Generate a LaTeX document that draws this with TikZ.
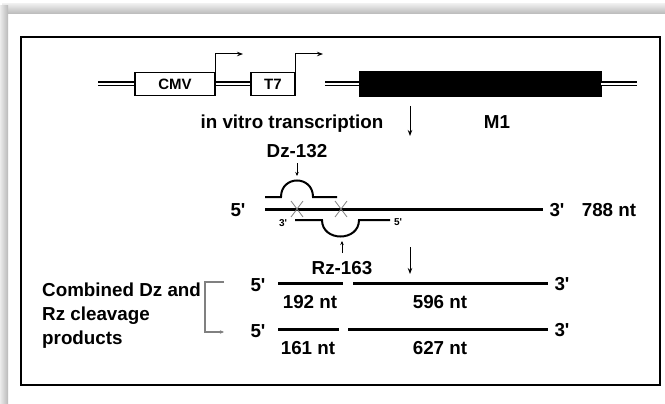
\documentclass[tikz,border=0pt]{standalone}
\usepackage{fontspec}
\setmainfont{Liberation Sans}
\usetikzlibrary{arrows.meta}
\newcommand{\pr}{\textquotesingle}
\begin{document}
\begin{tikzpicture}[x=1pt,y=-1pt,
  lbl/.style={font=\fontsize{18.8}{24}\selectfont\bfseries, inner sep=0pt, text height=13pt, text depth=0pt},
  boxlbl/.style={font=\fontsize{15}{17}\selectfont\bfseries, draw, line width=1.3pt, inner sep=0pt},
  tiny/.style={font=\fontsize{10}{12}\selectfont\bfseries, inner sep=0pt, text height=7pt, text depth=0pt},
  dbl/.style={double, line width=1.3pt, double distance=2.4pt},
  rna/.style={line width=3pt},
  strand/.style={line width=2pt},
  cross/.style={gray, line width=0.8pt},
  arr/.style={line width=1pt, -{Stealth[length=6pt,width=4.5pt]}},
  sarr/.style={line width=0.8pt, -{Stealth[length=4pt,width=3.5pt]}},
  brk/.style={gray, line width=1.2pt}
]
\useasboundingbox (0,0) rectangle (665,404);
% frame shadow
\shade[top color=gray!15, bottom color=gray!55] (2,4) rectangle (665,14);
\shade[left color=gray!15, right color=gray!55] (0,6) rectangle (8,404);
\draw[line width=2pt] (21,37.5) rectangle (659.5,385);

% top construct
\coordinate (l0) at (98,84);
\node[boxlbl, minimum width=80pt, minimum height=22.5pt] (cmv) at (175,84) {CMV};
\node[boxlbl, minimum width=44pt, minimum height=22.5pt] (t7) at (273,84) {T7};
\node[fill=black, draw=black, minimum width=242pt, minimum height=25pt, inner sep=0pt] (m1box) at (480,84) {};
\coordinate (r0) at (637,84);
\coordinate (gapl) at (325,84);
\draw[dbl] (l0) -- (cmv.west);
\draw[dbl] (cmv.east) -- (t7.west);
\draw[dbl] (gapl) -- (m1box.west);
\draw[dbl] (m1box.east) -- (r0);
\coordinate (p1) at (243,54);
\coordinate (p2) at (323,54);
\draw[line width=1pt, -{Stealth[length=6pt,width=4.5pt]}] (cmv.north east) |- (p1);
\draw[line width=1pt, -{Stealth[length=6pt,width=4.5pt]}] (t7.north east) |- (p2);

\node[lbl] (ivt) at (292,122) {in vitro transcription};
\node[lbl] (m1) at (497,122) {M1};
\coordinate (a1s) at (410,106);
\coordinate (a1e) at (410,136);
\draw[arr] (a1s) -- (a1e);

% hybridisation
\node[lbl] (dz) at (297,151) {Dz-132};
\coordinate (dzs) at (297,163);
\coordinate (dze) at (297,176);
\draw[sarr] (dzs) -- (dze);

\node[lbl] (five) at (238,210) {5\pr};
\coordinate (ms) at (265,209);
\coordinate (me) at (543,209);
\draw[rna] (ms) -- (me);
\node[lbl] (three) at (557,210) {3\pr};
\node[lbl] (nt788) at (609,210) {788 nt};

% Dz strand (upper)
\coordinate (u1) at (265,197);
\coordinate (u2) at (281,197);
\coordinate (u3) at (313,197);
\coordinate (u4) at (337,197);
\draw[strand] (u1) -- (u2) .. controls (281,175) and (313,175) .. (u3) -- (u4);
% Rz strand (lower)
\node[tiny] (s3) at (283,223) {3\pr};
\node[tiny] (s5) at (398,222) {5\pr};
\coordinate (d1) at (295,220);
\coordinate (d2) at (322,220);
\coordinate (d3) at (359,220);
\coordinate (d4) at (390,220);
\draw[strand] (d1) -- (d2) .. controls (322,242) and (359,242) .. (d3) -- (d4);
% crosses
\coordinate (x1) at (297,209);
\coordinate (x2) at (341,209);
\draw[cross] ([shift={(-6,-8)}]x1) -- ([shift={(6,8)}]x1) ([shift={(6,-8)}]x1) -- ([shift={(-6,8)}]x1);
\draw[cross] ([shift={(-6,-8)}]x2) -- ([shift={(6,8)}]x2) ([shift={(6,-8)}]x2) -- ([shift={(-6,8)}]x2);

\coordinate (rzs) at (342,253);
\coordinate (rze) at (342,241);
\draw[sarr] (rzs) -- (rze);
\node[lbl] (rz) at (342,268) {Rz-163};
\coordinate (a2s) at (410,247);
\coordinate (a2e) at (410,274);
\draw[arr] (a2s) -- (a2e);

% products
\node[lbl] (p5a) at (258,285) {5\pr};
\node[lbl] (p5b) at (258,331) {5\pr};
\node[lbl] (p3a) at (562,284) {3\pr};
\node[lbl] (p3b) at (562,330) {3\pr};
\coordinate (ra1) at (278,283);
\coordinate (ra2) at (343,283);
\coordinate (ra3) at (353,283);
\coordinate (ra4) at (548,283);
\coordinate (rb1) at (278,329);
\coordinate (rb2) at (339,329);
\coordinate (rb3) at (348,329);
\coordinate (rb4) at (548,329);
\draw[rna] (ra1) -- (ra2);
\draw[rna] (ra3) -- (ra4);
\draw[rna] (rb1) -- (rb2);
\draw[rna] (rb3) -- (rb4);
\node[lbl] (n192) at (310,302) {192 nt};
\node[lbl] (n596) at (440,302) {596 nt};
\node[lbl] (n161) at (308,348) {161 nt};
\node[lbl] (n627) at (440,348) {627 nt};

\node[font=\fontsize{18.8}{24}\selectfont\bfseries, inner sep=0pt, align=left, anchor=north west] (comb) at (42,282.5) {Combined Dz and\\Rz cleavage\\products};
\coordinate (b1) at (224,282);
\coordinate (b2) at (224,332);
\draw[brk, -{Stealth[length=4pt,width=3.5pt]}] (b1) -| (205,307) |- (b2);
\end{tikzpicture}
\end{document}
